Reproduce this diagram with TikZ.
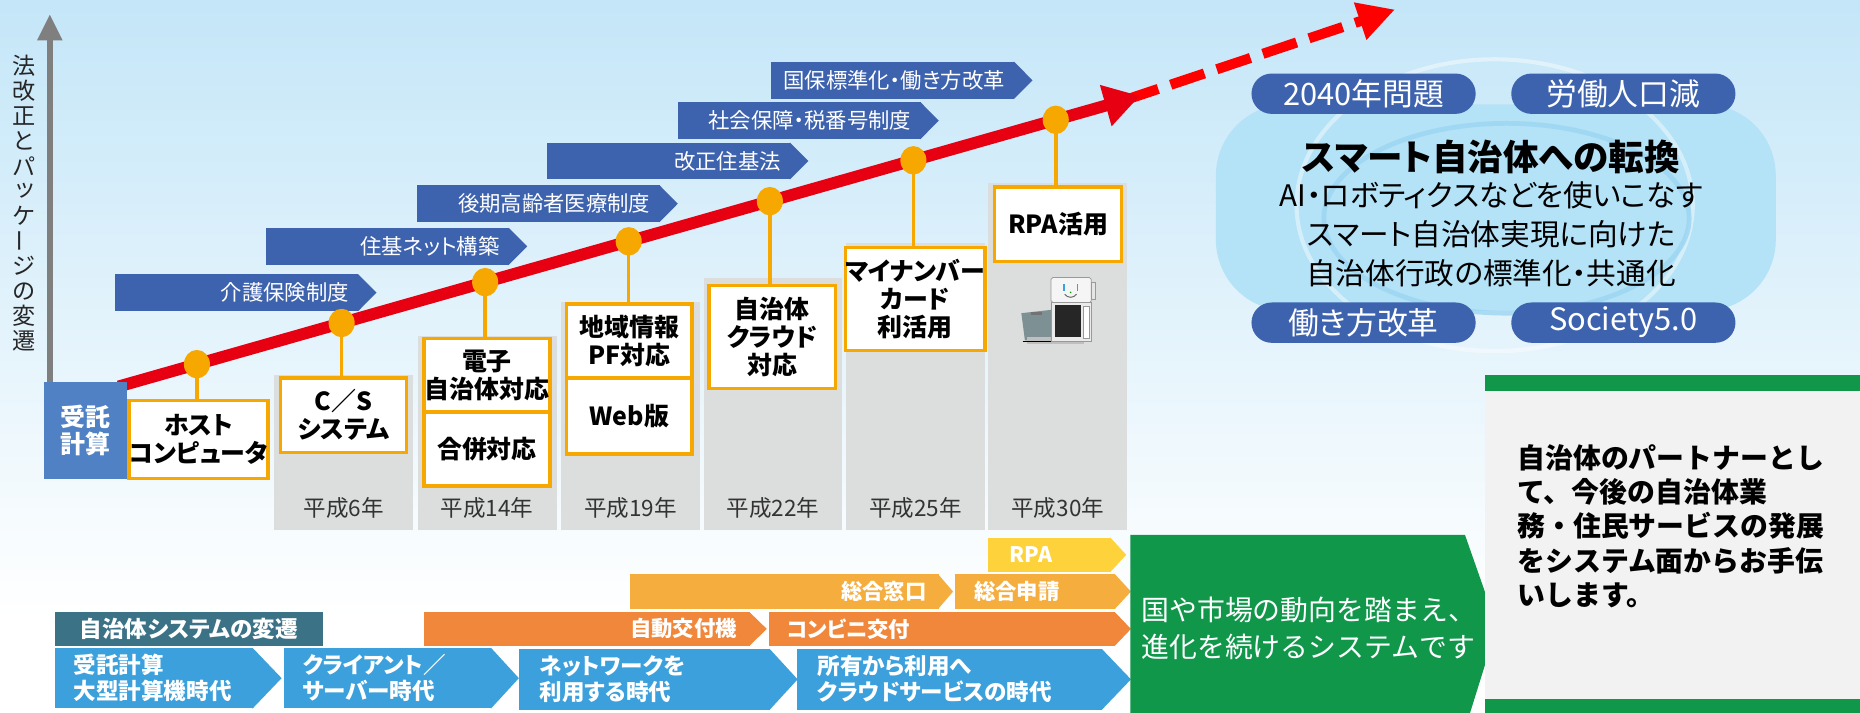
\documentclass[tikz,border=0pt]{standalone}
\usepackage{fontspec}
\setmainfont[RawFeature=+palt]{Noto Sans CJK JP}
\newfontfamily\fullw{Noto Sans CJK JP}
\usetikzlibrary{arrows.meta,calc,shapes.geometric}

\definecolor{bgtop}{HTML}{C4E6F8}
\definecolor{lawblue}{HTML}{3D62AE}
\definecolor{jblue}{HTML}{4F81C4}
\definecolor{colgray}{HTML}{DCDDDD}
\definecolor{amber}{HTML}{F6A800}
\definecolor{linered}{HTML}{E60012}
\definecolor{dashred}{HTML}{FF0000}
\definecolor{axisgray}{HTML}{7F7F7F}
\definecolor{blobblue}{HTML}{B4E2F7}
\definecolor{ringblue}{HTML}{9CD5F1}
\definecolor{hdrteal}{HTML}{3B7286}
\definecolor{eraBlue}{HTML}{3BA0DB}
\definecolor{orgA}{HTML}{F0873A}
\definecolor{orgB}{HTML}{F5AD3E}
\definecolor{rpaYel}{HTML}{FDD23B}
\definecolor{ggreen}{HTML}{10974A}
\definecolor{panel}{HTML}{F2F2F2}
\definecolor{yeartext}{HTML}{333333}
\definecolor{lidgray}{HTML}{7D9094}

\newcommand\fs[2]{\fontsize{#1}{#2}\selectfont}
% pointed right end of a bar node
\newcommand\bartip[3]{\fill[#3] ([xshift=-0.6pt]#1.north east) -- ([xshift=#2]#1.east) -- ([xshift=-0.6pt]#1.south east) -- cycle;}

\begin{document}
\begin{tikzpicture}[x=1pt,y=-1pt,
  lawbar/.style={fill=lawblue, text=white, anchor=north west, minimum height=31pt,
    inner xsep=8pt, inner ysep=0pt, text width=189pt, align=right, font=\fs{18}{20}},
  rowbar/.style={anchor=north west, text=white, inner ysep=0pt, font=\bfseries\fs{18}{20}},
  era/.style={anchor=north west, fill=eraBlue, text=white, minimum height=51pt,
    inner ysep=0pt, align=left, font=\bfseries\fs{19}{22}},
  colbox/.style={fill=colgray, anchor=north west, minimum width=117pt, inner sep=0pt},
  year/.style={font=\fs{19}{20}, text=yeartext, inner sep=0pt},
  obox/.style={draw=amber, line width=3pt, fill=white, align=center, inner sep=0pt,
    font=\bfseries\fs{21}{23.5}},
  stem/.style={draw=amber, line width=3pt},
  dot/.style={ellipse, fill=amber, minimum width=22pt, minimum height=24pt, inner sep=0pt},
  pill/.style={fill=lawblue, text=white, rounded corners=17pt, minimum width=189pt,
    minimum height=34pt, inner sep=0pt, font=\fs{26}{28}},
  vchar/.style={font=\fs{19.5}{20}, inner sep=0pt, text=black!85}]

\useasboundingbox (0,0) rectangle (1568,601);

% background
\shade[top color=bgtop, bottom color=white] (0,0) rectangle (1568,520);
\fill[white] (0,520) rectangle (1568,601);

% smart-municipality cloud
\fill[blobblue, rounded corners=60pt] (1025,88) rectangle (1497,262);
\draw[white, opacity=0.45, line width=3.5pt] (1260,173) ellipse [x radius=167pt, y radius=123pt];
\draw[ringblue, opacity=0.8, line width=4pt] (1270,184) ellipse [x radius=154pt, y radius=80pt];
\node[pill] (p2040) at (1149.5,79) {2040年問題};
\node[pill] (plabor) at (1368.5,79) {労働人口減};
\node[pill] (pwork) at (1149.5,272) {働き方改革};
\node[pill] (psoc) at (1368.5,272) {Society5.0};
\node[font=\bfseries\fs{30}{32}, inner sep=0pt] (smart) at (1257,132) {スマート自治体への転換};
\node[font=\fs{25}{32.5}, align=center, inner sep=0pt] (smartsub) at (1257,197.5)
  {AI・ロボティクスなどを使いこなす\\スマート自治体実現に向けた\\自治体行政の標準化・共通化};

% period columns
\node[colbox, minimum height=131pt] (col6) at (231,316) {};
\node[colbox, minimum height=164pt] (col14) at (352,283) {};
\node[colbox, minimum height=193pt] (col19) at (473,254) {};
\node[colbox, minimum height=213pt] (col22) at (593,234) {};
\node[colbox, minimum height=242pt] (col25) at (713,205) {};
\node[colbox, minimum height=293pt] (col30) at (833,154) {};
\node[year] (yr6) at ($(col6.south)+(0,-19)$) {平成6年};
\node[year] (yr14) at ($(col14.south)+(0,-19)$) {平成14年};
\node[year] (yr19) at ($(col19.south)+(0,-19)$) {平成19年};
\node[year] (yr22) at ($(col22.south)+(0,-19)$) {平成22年};
\node[year] (yr25) at ($(col25.south)+(0,-19)$) {平成25年};
\node[year] (yr30) at ($(col30.south)+(0,-19)$) {平成30年};

% vertical axis and its caption
\coordinate (axbase) at (42,322);
\coordinate (axtop) at (42,12);
\draw[axisgray, line width=5pt, -{Triangle[length=22pt,width=20pt]}] (axbase) -- (axtop);
\foreach \ch/\rot/\dx [count=\i] in {法/0/0,改/0/0,正/0/0,と/0/0,パ/0/0,ッ/0/1.5,ケ/0/0,ー/90/0,ジ/0/0,の/0/0,変/0/0,遷/0/0}
  \node[vchar, rotate=\rot, xshift=\dx pt] (vt\i) at (20,34.4+21.1*\i) {\ch};

% law revisions
\node[lawbar] (law1) at (97,231) {介護保険制度};   \bartip{law1}{15pt}{lawblue}
\node[lawbar] (law2) at (224,192) {住基ネット構築}; \bartip{law2}{15pt}{lawblue}
\node[lawbar] (law3) at (351,156) {後期高齢者医療制度}; \bartip{law3}{15pt}{lawblue}
\node[lawbar] (law4) at (461,120) {改正住基法};     \bartip{law4}{15pt}{lawblue}
\node[lawbar] (law5) at (571,86) {社会保障・税番号制度}; \bartip{law5}{15pt}{lawblue}
\node[lawbar] (law6) at (650,52) {国保標準化・働き方改革}; \bartip{law6}{15pt}{lawblue}

% timeline arrow
\coordinate (dstart) at (948,84.5);
\coordinate (dtip) at (1176,8);
\draw[dashred, line width=8.5pt, dash pattern=on 30pt off 11pt, -{Triangle[length=31pt,width=31pt]}] (dstart) -- (dtip);
\coordinate (rstart) at (100,325.8);
\coordinate (rtip) at (961,80.8);
\draw[linered, line width=10pt, -{Triangle[length=30pt,width=34pt]}] (rstart) -- (rtip);

% package boxes
\node[obox, minimum width=106pt, minimum height=66pt] (host) at (167.5,370.5) {ホスト\\コンピュータ};
\node[obox, minimum width=106pt, minimum height=63pt] (cs) at (289.5,350) {C／S\\システム};
\node[obox, minimum width=106pt, minimum height=62pt] (denshi) at (410.5,316.5) {電子\\自治体対応};
\node[obox, minimum width=106pt, minimum height=62pt] (gappei) at (410.5,378.5) {合併対応};
\node[obox, minimum width=106pt, minimum height=62pt] (chiiki) at (530.5,287.5) {地域情報\\PF対応};
\node[obox, minimum width=106pt, minimum height=64pt] (web) at (530.5,350.5) {Web版};
\node[obox, minimum width=107pt, minimum height=87pt] (cloud) at (651,284) {自治体\\クラウド\\対応};
\node[obox, minimum width=106pt, minimum height=87pt] (mynum) at (771.5,252) {マイナンバー\\カード\\利活用};
\node[obox, minimum width=107pt, minimum height=63pt] (rpa) at (892,189) {RPA活用};

% milestones on the timeline
\foreach \i/\x in {1/166,2/288,3/409,4/530,5/649,6/770,7/890}
  \coordinate (d\i) at (\x,{307-0.2845*(\x-166)});
\draw[stem] (d1) -- (d1 |- host.north);
\draw[stem] (d2) -- (d2 |- cs.north);
\draw[stem] (d3) -- (d3 |- denshi.north);
\draw[stem] (d4) -- (d4 |- chiiki.north);
\draw[stem] (d5) -- (d5 |- cloud.north);
\draw[stem] (d6) -- (d6 |- mynum.north);
\draw[stem] (d7) -- (d7 |- rpa.north);
\foreach \i in {1,...,7} \node[dot] (dot\i) at (d\i) {};

% contract computing box
\node[fill=jblue, text=white, minimum width=70pt, minimum height=82pt, inner sep=0pt,
  align=center, font=\bfseries\fs{21}{23}] (jutaku) at (72,363) {受託\\計算};

% RPA robot with laptop
\fill[lidgray] (861,264) -- (888,261) -- (890,287) -- (864,287) -- cycle;
\fill[black!55] (869,263.2) rectangle (878,265.5);
\fill[black!25] (866,284) rectangle (914,290);
\draw[black, line width=1.2pt] (862,288) -- (890,288);
\filldraw[fill=black!8, draw=black!40, line width=0.6pt] (886,255) rectangle (920,288);
\fill[black!85] (889,257) rectangle (911,284);
\filldraw[fill=white, draw=black!40, line width=0.6pt] (913,258) rectangle (918,285);
\filldraw[fill=black!4, draw=black!40, line width=0.6pt, rounded corners=1.5pt] (886,234) rectangle (920,255);
\filldraw[fill=black!10, draw=black!40, line width=0.5pt] (920,238) rectangle (923.5,252);
\draw[eraBlue, line width=1pt] (897,239.5) -- (897,245.5) (908,239.5) -- (908,245.5);
\draw[black!60, line width=0.8pt] (897.5,248) .. controls (900,251.5) and (905,251.5) .. (907.5,248);
\fill[green!60!black] (902.5,246.5) circle (0.7pt);

% service rows
\node[rowbar, fill=rpaYel, minimum height=29pt, inner xsep=18pt, text width=67pt, align=left] (rpabar) at (833,453) {RPA};
\bartip{rpabar}{13pt}{rpaYel}
\node[rowbar, fill=orgB, minimum height=29pt, inner xsep=10pt, text width=240pt, align=right] (madoguchi) at (531,484) {総合窓口};
\bartip{madoguchi}{12pt}{orgB}
\node[rowbar, fill=orgB, minimum height=29pt, inner xsep=16pt, text width=103pt, align=left] (shinsei) at (805,484) {総合申請};
\bartip{shinsei}{13pt}{orgB}
\node[rowbar, fill=orgA, minimum height=28pt, inner xsep=11pt, text width=253pt, align=right] (kofuki) at (357,516) {自動交付機};
\bartip{kofuki}{14pt}{orgA}
\node[rowbar, fill=orgA, minimum height=28pt, inner xsep=15pt, text width=262pt, align=left] (konbini) at (648,516) {コンビニ交付};
\bartip{konbini}{13pt}{orgA}
\node[rowbar, fill=hdrteal, minimum height=28pt, inner xsep=0pt, text width=226pt, align=center,
  font=\bfseries\fs{19}{21}] (hdr) at (46,516) {自治体システムの変遷};

% system eras
\node[era, inner xsep=16pt, text width=135pt] (era1) at (46,546) {受託計算\\大型計算機時代};
\bartip{era1}{24pt}{eraBlue}
\node[era, inner xsep=16pt, text width=143pt] (era2) at (239,546) {クライアント／\\サーバー時代};
\bartip{era2}{23pt}{eraBlue}
\node[era, inner xsep=18pt, text width=176pt] (era3) at (437,547) {ネットワークを\\利用する時代};
\bartip{era3}{23pt}{eraBlue}
\node[era, inner xsep=17pt, text width=223pt] (era4) at (672,547) {所有から利用へ\\クラウドサービスの時代};
\bartip{era4}{24pt}{eraBlue}

% evolution arrow
\fill[ggreen] (953,451) -- (1235,451) -- (1262,528) -- (1238,605) -- (953,605) -- cycle;
\node[anchor=west, text=white, align=left, font=\fullw\fs{23.5}{31}, inner sep=0pt] (trend) at (962,529.5)
  {国や市場の動向を踏まえ、\\進化を続けるシステムです};

% partner panel
\fill[panel] (1252,316) rectangle (1568,601);
\fill[ggreen] (1252,316) rectangle (1568,330);
\fill[ggreen] (1252,589) rectangle (1568,601);
\node[anchor=west, align=left, font=\fullw\bfseries\fs{23.5}{28.8}, inner sep=0pt] (partner) at (1279,443.5)
  {自治体のパートナーとし\\て、今後の自治体業\\務・住民サービスの発展\\をシステム面からお手伝\\いします。};

\end{tikzpicture}
\end{document}
